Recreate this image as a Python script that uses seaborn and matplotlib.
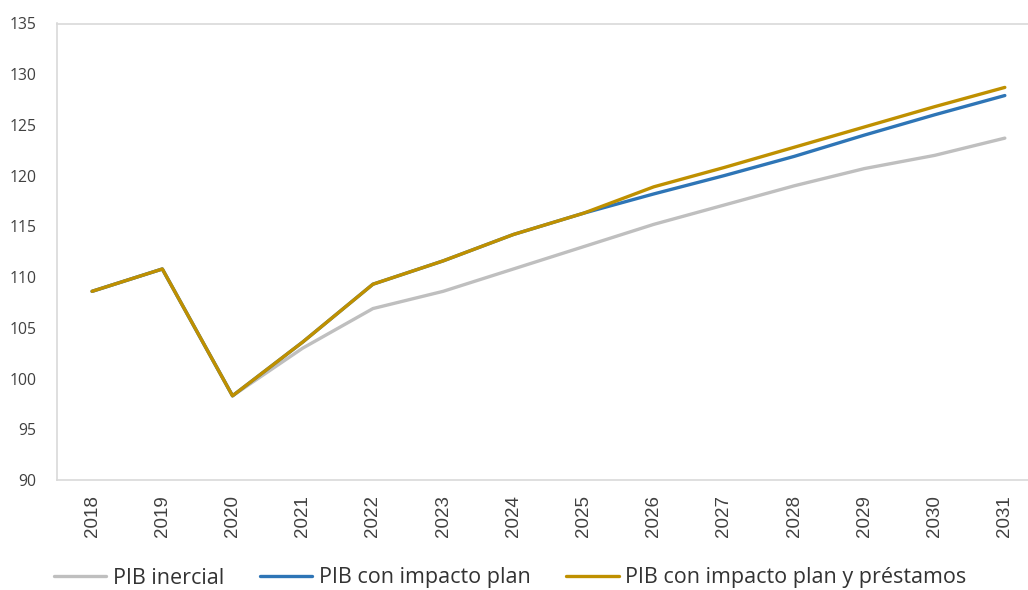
import pandas as pd
import matplotlib.pyplot as plt
import seaborn as sns

# data
years = ['2018', '2019', '2020', '2021', '2022', '2023', '2024',
         '2025', '2026', '2027', '2028', '2029', '2030', '2031']
pib_inercial = [108.6, 110.8, 98.3, 103.0, 106.9, 108.6, 110.8,
                113.0, 115.2, 117.1, 119.0, 120.7, 122.0, 123.7]
pib_plan = [108.6, 110.8, 98.3, 103.6, 109.3, 111.6, 114.2,
            116.3, 118.2, 120.0, 121.9, 124.0, 126.0, 127.9]
pib_plan_prestamos = [108.6, 110.8, 98.3, 103.6, 109.3, 111.6, 114.2,
                      116.3, 118.9, 120.8, 122.8, 124.8, 126.8, 128.7]

series_names = ['PIB inercial', 'PIB con impacto plan',
                'PIB con impacto plan y préstamos']
colors = ['#BFBFBF', '#2E75B6', '#BF9000']
y_ticks = [90, 95, 100, 105, 110, 115, 120, 125, 130, 135]

df = pd.concat([
    pd.DataFrame({'Año': years, 'PIB': vals, 'Serie': name})
    for name, vals in zip(series_names, [pib_inercial, pib_plan, pib_plan_prestamos])
], ignore_index=True)

sns.set_style('white')
plt.rcParams['font.family'] = ['Open Sans', 'DejaVu Sans']

fig = plt.figure(figsize=(10.28, 5.90), dpi=100)
ax = fig.add_axes([57 / 1028, 110 / 590, 971 / 1028, 456.5 / 590])

sns.lineplot(data=df, x='Año', y='PIB', hue='Serie', hue_order=series_names,
             palette=colors, linewidth=2.4, sort=False, ax=ax)

ax.set_xlim(-0.5, 13.33)
ax.set_ylim(90, 135)
ax.set_yticks(y_ticks)
ax.set_xlabel('')
ax.set_ylabel('')

ax.tick_params(axis='y', length=0, pad=15, labelsize=11.3, labelcolor='#404040')
ax.tick_params(axis='x', length=0, pad=11, labelsize=13.5, labelcolor='#404040',
               rotation=90)
for lab in ax.get_xticklabels():
    lab.set_fontfamily(['Liberation Sans', 'DejaVu Sans'])

for side in ['left', 'top', 'bottom']:
    ax.spines[side].set_color('#D9D9D9')
    ax.spines[side].set_linewidth(1.2)
ax.spines['right'].set_visible(False)

ax.legend(loc='center', bbox_to_anchor=(510 / 1028, 12 / 590),
          bbox_transform=fig.transFigure, ncol=3, frameon=False,
          fontsize=15.5, handlelength=2.45, handletextpad=0.3,
          columnspacing=1.65, labelcolor='#333333')

fig.savefig('out.png', dpi=100)
